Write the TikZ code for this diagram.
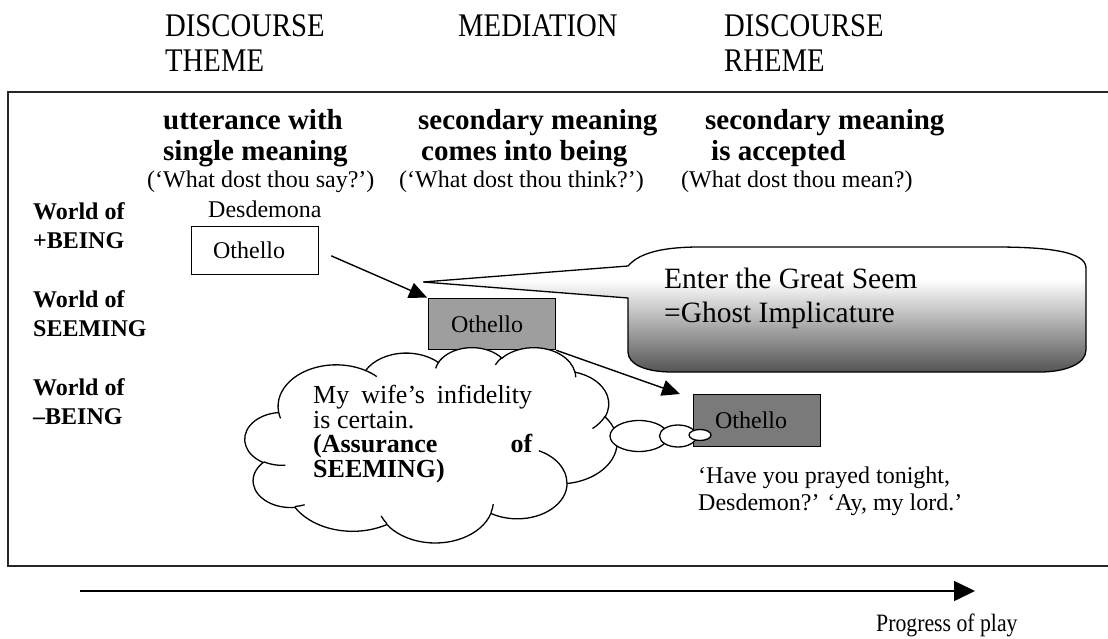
\documentclass[tikz,border=0pt]{standalone}
\usepackage{fontspec}
\setmainfont{Liberation Serif}
\newfontfamily\narrowserif[FakeStretch=0.87]{Liberation Serif}
\usetikzlibrary{arrows.meta,shapes.geometric}

\definecolor{framegray}{gray}{0.15}
\definecolor{seemfill}{gray}{0.62}
\definecolor{lowfill}{gray}{0.48}
\definecolor{bubbledark}{gray}{0.33}

% vertical shading: dark at the bottom, white over the upper part
\pgfdeclareverticalshading{bubbleshade}{100bp}{%
  color(0bp)=(bubbledark); color(25bp)=(bubbledark);
  color(62bp)=(white); color(75bp)=(white); color(100bp)=(white)}

% scale of the cloud outline (outline units are 1/100 of a 432 x 432 grid)
\def\cloudsx{0.86111}
\def\cloudsy{0.45208}

\tikzset{
  hdr/.style={font=\narrowserif\fontsize{33}{35}\selectfont, anchor=base west, inner sep=0, align=left},
  stagehead/.style={font=\bfseries\fontsize{29}{32}\selectfont, anchor=base west, inner sep=0, align=left},
  plain/.style={font=\fontsize{24}{27}\selectfont, anchor=base west, inner sep=0, align=left},
  worldlabel/.style={font=\bfseries\fontsize{24}{29}\selectfont, anchor=base west, inner sep=0, align=left},
  actor/.style={draw=black, line width=1.3pt, minimum width=127pt, inner sep=0,
    font=\fontsize{24}{26}\selectfont},
  link/.style={line width=1.4pt, -{Triangle[length=18pt,width=16pt]}},
  puff/.style={ellipse, draw=black, line width=1.3pt, fill=white, inner sep=0},
  cloudline/.style={draw=black, line width=1.3pt},
  % elliptic arc given by radii and start/sweep as visual angles (degrees)
  ooarc/.code n args={4}{%
    \pgfmathsetmacro\oaS{#3}%
    \pgfmathsetmacro\oaE{#3+#4}%
    \pgfmathsetmacro\oaPs{atan2(#1*sin(\oaS),#2*cos(\oaS))}%
    \pgfmathsetmacro\oaPe{atan2(#1*sin(\oaE),#2*cos(\oaE))}%
    \pgfmathsetmacro\oaD{\oaPe-\oaPs}%
    \pgfmathsetmacro\oaD{\oaD<0 ? \oaD+360 : \oaD}%
    \pgfmathsetmacro\oaPe{\oaPs+\oaD}%
    \pgfmathsetmacro\oaRx{#1*\cloudsx}%
    \pgfmathsetmacro\oaRy{#2*\cloudsy}%
    \edef\oaNext{\noexpand\pgfkeysalso{/tikz/insert path={arc[start angle=\oaPs,end angle=\oaPe,x radius=\oaRx,y radius=\oaRy]}}}%
    \oaNext
  },
}

\begin{document}
\begin{tikzpicture}[x=1pt,y=-1pt]
\useasboundingbox (0,0) rectangle (1108,639);
\clip (0,0) rectangle (1108,639);

% column titles (base anchor = last line)
\node[hdr] (theme) at (165,72) {DISCOURSE\\THEME};
\node[hdr] (mediation) at (458,37) {MEDIATION};
\node[hdr] (rheme) at (724,72) {DISCOURSE\\RHEME};

% frame, open on the right
\draw[framegray, line width=2pt] (1120,92) -- (8,92) -- (8,566) -- (1120,566);

% stage headings
\node[stagehead] (s1) at (163,161) {utterance with\\single meaning};
\node[stagehead] (s2) at (418,161) {secondary meaning\\\hspace*{3pt}comes into being};
\node[stagehead] (s3) at (705,161) {secondary meaning\\\hspace*{6pt}is accepted};
\node[plain] (q1) at (147,188) {(‘What dost thou say?’)};
\node[plain] (q2) at (399,188) {(‘What dost thou think?’)};
\node[plain] (q3) at (681,188) {(What dost thou mean?)};

% worlds
\node[worldlabel] (w1) at (33,248) {World of\\+BEING};
\node[worldlabel] (w2) at (33,336) {World of\\SEEMING};
\node[worldlabel] (w3) at (33,424) {World of\\–BEING};

% Othello in the three worlds
\node[plain] (desd) at (208,218) {Desdemona};
\node[actor, anchor=north west, minimum height=48pt] (o1) at (191,226) {\hspace*{-12pt}Othello};
\node[actor, anchor=north west, fill=seemfill, minimum height=51pt] (o2) at (428,298) {\hspace*{-10pt}Othello};
\node[actor, anchor=north west, fill=lowfill, minimum height=52pt] (o3) at (693,394) {\hspace*{-12pt}Othello};

% speech bubble
\shadedraw[shading=bubbleshade, draw=black, line width=1.3pt]
  (423,282) -- (628,266)
  .. controls (640,252) and (665,247) .. (700,247)
  -- (995,247)
  .. controls (1050,247) and (1086,252) .. (1086,268)
  -- (1086,350)
  .. controls (1086,364) and (1065,372) .. (1040,372)
  -- (672,372)
  .. controls (645,372) and (628,364) .. (628,352)
  -- (628,298) -- cycle;
\node[plain, font=\fontsize{29.5}{34}\selectfont] (seem) at (664,322) {Enter the Great Seem\\=Ghost Implicature};

% thought cloud: eleven arcs
\path[cloudline, fill=white] (278.58,411.96)
  [ooarc={67.53}{91.90}{-190.4875}{123.7805}]
  [ooarc={53.33}{72.67}{-144.1024}{89.9452}]
  [ooarc={43.65}{59.45}{-145.8079}{99.7230}]
  [ooarc={48.57}{65.95}{-130.9861}{117.2417}]
  [ooarc={53.33}{72.73}{-78.7089}{109.0269}]
  [ooarc={67.75}{92.20}{-46.2673}{130.2690}]
  [ooarc={57.85}{78.67}{0.6250}{114.0333}]
  [ooarc={67.52}{92.15}{22.4516}{115.1726}]
  [ooarc={77.20}{105.43}{66.2426}{75.7110}]
  [ooarc={43.60}{59.18}{-274.9421}{146.7356}]
  [ooarc={43.45}{59.45}{-246.8285}{152.5189}]
  -- cycle;
% inner continuations of the puffs
\path[cloudline] (285.41,465.34) [ooarc={43.45}{59.45}{86.742}{26.4295}];
\path[cloudline] (304.66,504.77) [ooarc={43.60}{59.18}{73.6105}{11.4475}];
\path[cloudline] (386.90,523.72) [ooarc={67.52}{92.15}{137.6242}{14.0811}];
\path[cloudline] (493.24,504.10) [ooarc={67.52}{92.15}{6.4533}{15.9984}];
\path[cloudline] (538.89,450.77) [ooarc={57.85}{78.67}{-70.2924}{70.9174}];
\path[cloudline] (604.93,416.41) [ooarc={53.33}{72.73}{30.3180}{27.7515}];
\path[cloudline] (575.01,371.53) [ooarc={48.57}{65.95}{-13.7443}{14.8589}];
\path[cloudline] (495.40,364.87) [ooarc={48.57}{65.95}{-149.1815}{18.1954}];
\path[cloudline] (435.66,368.34) [ooarc={43.65}{59.45}{-163.4943}{17.6864}];
\path[cloudline] (365.56,370.47) [ooarc={67.53}{91.90}{-66.7070}{12.3194}];
\path[cloudline] (280.54,418.38) [ooarc={67.53}{91.90}{157.6544}{11.8582}];

\node[plain, font=\fontsize{26}{24.5}\selectfont] (thought) at (313,477)
  {\makebox[219pt][s]{My wife’s infidelity}\\is certain.\\
   \textbf{\makebox[219pt][s]{(Assurance of}}\\\textbf{SEEMING)}};

% thought trail toward Othello
\node[puff, minimum width=58pt, minimum height=31pt] (t1) at (639,436) {};
\node[puff, minimum width=37pt, minimum height=22pt] (t2) at (678,436) {};
\node[puff, minimum width=22pt, minimum height=11pt] (t3) at (700,435) {};

\node[plain] (prayer) at (698,510) {‘Have you prayed tonight,\\Desdemon?’ ‘Ay, my lord.’};

% moves between worlds
\draw[link, shorten <=13pt, shorten >=1pt] (o1.east) -- (o2.north west);
\draw[link] (o2.south east) -- ([xshift=-13pt]o3.north west);

% time axis
\coordinate (t0) at (80,591);
\coordinate (tend) at (975,591);
\draw[line width=1.6pt, -{Triangle[length=21pt,width=20pt]}] (t0) -- (tend);
\node[hdr, font=\narrowserif\fontsize{25}{27}\selectfont] (progress) at (876,631) {Progress of play};
\end{tikzpicture}
\end{document}
